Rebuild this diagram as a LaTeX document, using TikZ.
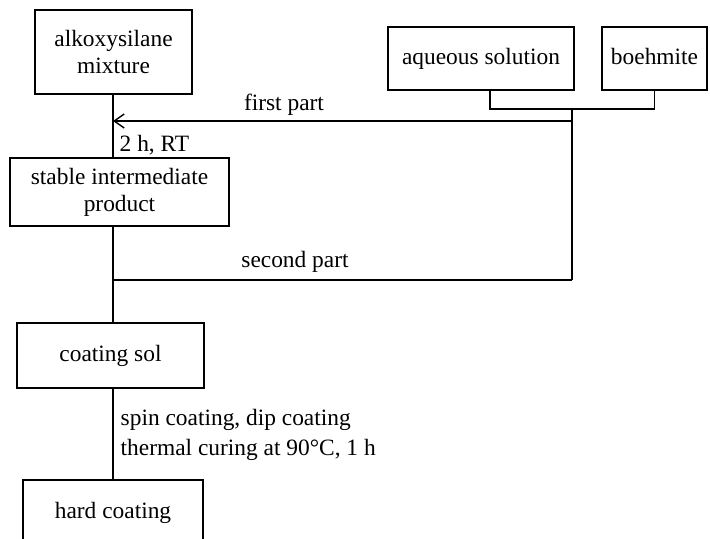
\documentclass[tikz,border=0pt]{standalone}
\usepackage{fontspec}
\setmainfont{Liberation Serif}
\usepackage{tikz}
\usetikzlibrary{arrows.meta,positioning}

\begin{document}
\begin{tikzpicture}[x=0.5pt,y=-0.5pt,line width=0.7pt,
      box/.style={draw,align=center,inner sep=2pt,
                  font=\fontsize{11.7}{13.5}\selectfont},
      lbl/.style={font=\fontsize{11.7}{15}\selectfont,inner sep=1pt},
      ar/.style={-{Straight Barb[length=5pt,width=7pt]}}]
    \useasboundingbox (0,0) rectangle (710,538);
    % boxes
    \node[box,minimum width=78.5pt,minimum height=42pt] (alk) at (113.5,52)
      {alkoxysilane\\mixture};
    \node[box,minimum width=93pt,minimum height=31.5pt,text depth=0.25em] (aq) at (481,58.5)
      {aqueous solution};
    \node[box,minimum width=52.5pt,minimum height=31.5pt,text depth=0.25em] (boe) at (654.5,58.5)
      {boehmite};
    \node[box,minimum width=109.5pt,minimum height=34pt] (stab) at (119.5,192)
      {stable intermediate\\product};
    \node[box,minimum width=93.5pt,minimum height=32.5pt] (sol) at (110.5,355.5)
      {coating sol};
    \node[box,minimum width=90pt,minimum height=32.5pt] (hard) at (113,512.5)
      {hard coating};
    % helper points
    \coordinate (spine) at (113,0);
    \coordinate (join) at (572,109);
    \coordinate (fpR) at (572,121);
    \coordinate (spR) at (572,280);
    % main line
    \draw (alk.south -| spine) -- (stab.north -| spine);
    \draw (stab.south -| spine) -- (sol.north -| spine);
    \draw (sol.south -| spine) -- (hard.north -| spine);
    % feed
    \draw ([xshift=4.5pt]aq.south) |- (join) -| (boe.south);
    \draw (join) -- (spR);
    \draw[ar] (fpR) -- (fpR -| spine);
    \draw (spR) -- (spR -| spine);
    % labels
    \node[lbl] (first) at (284,105) {first part};
    \node[lbl] (second) at (295,262) {second part};
    \node[lbl,anchor=west] (rt) at (117,145) {2 h, RT};
    \node[lbl,anchor=west,align=left] (cure) at (118,435)
      {spin coating, dip coating\\thermal curing at 90°C, 1 h};
  \end{tikzpicture}
\end{document}
